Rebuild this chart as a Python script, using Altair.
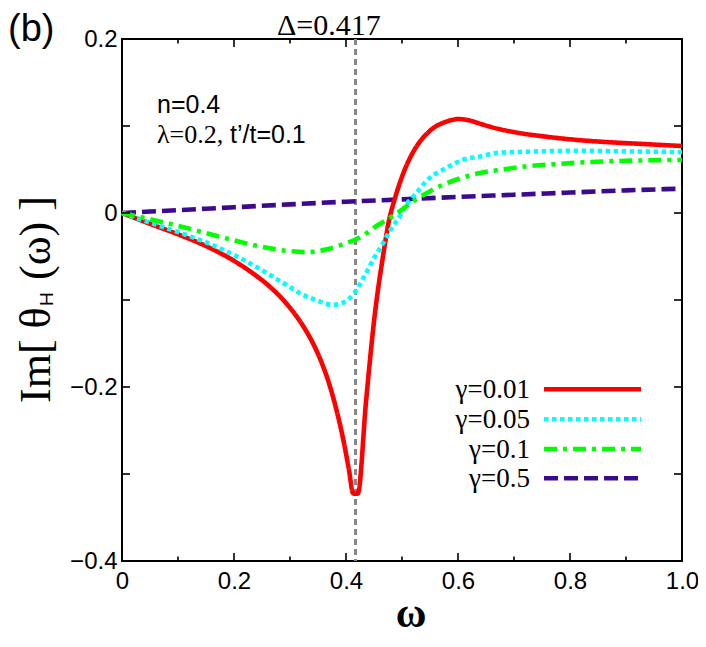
import altair as alt
import pandas as pd

# ---------------- data ----------------
DELTA = 0.417

red_x = [0, 0.05, 0.10, 0.15, 0.20, 0.233, 0.260, 0.280, 0.300, 0.320, 0.340, 0.355,
         0.370, 0.383, 0.395, 0.405, 0.413, 0.421, 0.436, 0.451, 0.466, 0.477, 0.487,
         0.505, 0.519, 0.549, 0.579, 0.590, 0.600, 0.620, 0.640, 0.670, 0.700, 0.760,
         0.820, 0.880, 0.940, 1.0]
red_y = [0, -0.0125, -0.0245, -0.038, -0.055, -0.069, -0.0825, -0.0945, -0.109, -0.1265, -0.1485, -0.1695,
         -0.1965, -0.2264, -0.260, -0.294, -0.3225, -0.3225, -0.215, -0.119, -0.050, -0.008, 0.016,
         0.050, 0.069, 0.094, 0.105, 0.107, 0.108, 0.1065, 0.1025, 0.097, 0.093, 0.0875,
         0.0836, 0.081, 0.079, 0.077]

cyan_x = [0, 0.054, 0.114, 0.173, 0.233, 0.293, 0.317, 0.346, 0.376, 0.395, 0.415, 0.436,
          0.450, 0.466, 0.478, 0.496, 0.508, 0.519, 0.549, 0.580, 0.608, 0.640, 0.668, 0.700,
          0.758, 0.820, 0.877, 0.940, 1.0]
cyan_y = [0, -0.012, -0.025, -0.040, -0.0595, -0.0825, -0.092, -0.100, -0.1055, -0.103, -0.092, -0.069,
          -0.052, -0.035, -0.021, -0.004, 0.010, 0.018, 0.040, 0.052, 0.061, 0.065, 0.069, 0.070,
          0.071, 0.0715, 0.071, 0.0705, 0.070]

green_x = [0, 0.054, 0.114, 0.173, 0.233, 0.293, 0.330, 0.364, 0.390, 0.415, 0.435, 0.454,
           0.475, 0.496, 0.519, 0.550, 0.579, 0.610, 0.639, 0.680, 0.728, 0.770, 0.818, 0.900, 1.0]
green_y = [0, -0.0077, -0.017, -0.027, -0.0365, -0.0434, -0.045, -0.042, -0.037, -0.031, -0.024, -0.015,
           -0.007, 0.002, 0.013, 0.025, 0.034, 0.041, 0.046, 0.050, 0.054, 0.056, 0.058, 0.060, 0.061]

purple_x = [0, 0.1, 0.2, 0.3, 0.4, 0.5, 0.6, 0.7, 0.8, 0.9, 1.0]
purple_y = [0, 0.0033, 0.0066, 0.0099, 0.013, 0.0157, 0.0185, 0.021, 0.0235, 0.026, 0.028]

series_labels = ["γ=0.01", "γ=0.05", "γ=0.1", "γ=0.5"]

x_major_ticks = [0, 0.2, 0.4, 0.6, 0.8, 1.0]
x_minor_ticks = [0.1, 0.3, 0.5, 0.7, 0.9]
y_ticks = [-0.4, -0.3, -0.2, -0.1, 0.0, 0.1, 0.2]
y_label_ticks = [-0.4, -0.2, 0.0, 0.2]

# ---------------- styles ----------------
W, H = 560, 522
SANS = "Liberation Sans"
SERIF = "Liberation Serif"
colors = ["#ff0000", "#00ffff", "#00ff00", "#3d0a8f"]
dashes = [[1, 0], [4.5, 3.5], [13, 6, 4, 6], [14, 6]]
LW = 4.6

xs = alt.Scale(domain=[0, 1], nice=False, zero=False)
ys = alt.Scale(domain=[-0.4, 0.2], nice=False, zero=False)
xaxis = alt.Axis(values=x_major_ticks, ticks=False, domain=False, grid=False, title=None,
                 labelFont=SANS, labelFontSize=24, labelColor="black", labelPadding=8,
                 labelFlush=False, labelOverlap=False,
                 labelExpr="datum.value == 0 ? '0' : format(datum.value, '.1f')")
yaxis = alt.Axis(values=y_label_ticks, ticks=False, domain=False, grid=False, title=None,
                 labelFont=SANS, labelFontSize=24, labelColor="black", labelPadding=5,
                 labelFlush=False, labelOverlap=False,
                 labelExpr="datum.value == 0 ? '0' : format(datum.value, '.1f')")


def X(f):
    return alt.X(f, type="quantitative", scale=xs, axis=xaxis)


def Y(f):
    return alt.Y(f, type="quantitative", scale=ys, axis=yaxis)


layers = []

# Delta marker line
layers.append(
    alt.Chart(pd.DataFrame({"v": [DELTA]}))
    .mark_rule(color="#888888", strokeWidth=3, strokeDash=[6, 4])
    .encode(x=X("v"))
)

# curves (purple drawn first)
curve_data = [(red_x, red_y), (cyan_x, cyan_y), (green_x, green_y), (purple_x, purple_y)]
for i in [3, 0, 1, 2]:
    cx, cy = curve_data[i]
    df = pd.DataFrame({"x": cx, "y": cy})
    layers.append(
        alt.Chart(df)
        .mark_line(color=colors[i], strokeWidth=LW, strokeDash=dashes[i],
                   interpolate="monotone", strokeCap="butt")
        .encode(x=X("x"), y=Y("y"))
    )

# ticks (inward, on all four sides)
xmaj = pd.DataFrame({"v": x_major_ticks})
xmin = pd.DataFrame({"v": x_minor_ticks})
ytk = pd.DataFrame({"v": y_ticks})
tick_style = dict(color="black", strokeWidth=1.6)
layers += [
    alt.Chart(xmaj).mark_rule(**tick_style).encode(x=X("v"), y=alt.value(H), y2=alt.value(H - 8)),
    alt.Chart(xmaj).mark_rule(**tick_style).encode(x=X("v"), y=alt.value(0), y2=alt.value(8)),
    alt.Chart(xmin).mark_rule(**tick_style).encode(x=X("v"), y=alt.value(H), y2=alt.value(H - 4.5)),
    alt.Chart(xmin).mark_rule(**tick_style).encode(x=X("v"), y=alt.value(0), y2=alt.value(4.5)),
    alt.Chart(ytk).mark_rule(**tick_style).encode(y=Y("v"), x=alt.value(0), x2=alt.value(8)),
    alt.Chart(ytk).mark_rule(**tick_style).encode(y=Y("v"), x=alt.value(W), x2=alt.value(W - 8)),
]

# legend (manual)
leg_rows_y = [350.3, 380.3, 410.0, 439.3]
for i, lab in enumerate(series_labels):
    d = pd.DataFrame({"t": [lab]})
    layers.append(
        alt.Chart(d).mark_rule(color=colors[i], strokeWidth=LW, strokeDash=dashes[i], strokeCap="butt")
        .encode(x=alt.value(422), x2=alt.value(519), y=alt.value(leg_rows_y[i]))
    )
    layers.append(
        alt.Chart(d).mark_text(font=SERIF, fontSize=27, align="right", baseline="middle", color="black")
        .encode(x=alt.value(408), y=alt.value(leg_rows_y[i] + 1), text="t:N")
    )


def label(text, x, y, size, font, align="left", baseline="alphabetic", angle=0, weight="normal"):
    kw = dict(font=font, fontSize=size, align=align, baseline=baseline, color="black", fontWeight=weight)
    if angle:
        kw["angle"] = angle
    return (alt.Chart(pd.DataFrame({"t": [text]}))
            .mark_text(**kw)
            .encode(x=alt.value(x), y=alt.value(y), text="t:N"))


layers += [
    label("(b)", -114, 1.5, 38, SANS),
    label("Δ=0.417", 155, -4.5, 30, SERIF),
    label("n=0.4", 35, 74.3, 25, SANS),
    label("λ=0.2,", 35, 103.7, 26, SERIF),
    label("t’/t=0.1", 108, 103.7, 25, SANS),
    # y title: Im[ θ_H (ω) ]
    label("Im[ θ", -72, 364, 44, SERIF, angle=270),
    label("H", -69, 267, 19, SANS, angle=270),
    label("(ω) ]", -72, 241, 44, SERIF, angle=270),
    # x title
    label("ω", 289, 588, 42, SERIF, align="center", weight="bold"),
]

chart = (
    alt.layer(*layers)
    .properties(width=W, height=H, padding={"left": 114, "top": 31, "right": 16, "bottom": 78},
                autosize=alt.AutoSizeParams(type="none"), background="white")
    .configure_view(stroke="black", strokeWidth=2)
)

chart.save("out.html", embed_options={"renderer": "svg", "actions": False})
